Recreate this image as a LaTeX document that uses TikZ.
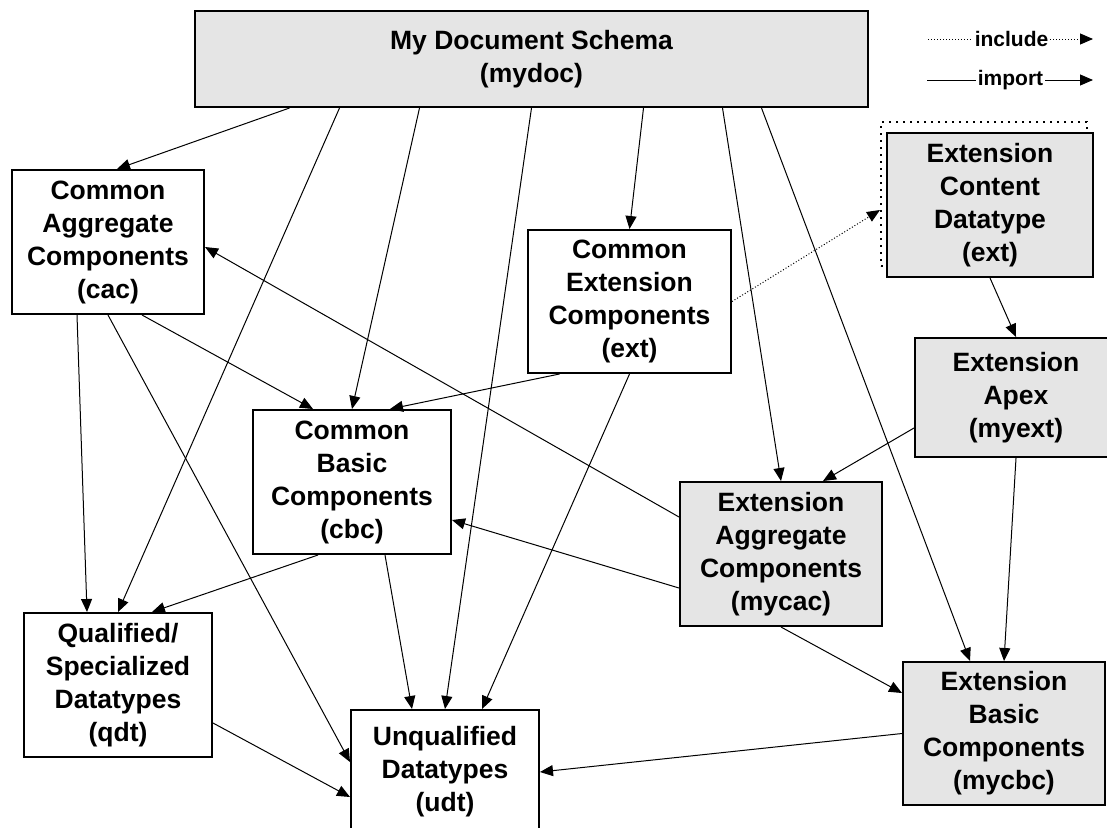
\documentclass[tikz,border=0pt]{standalone}
\usepackage{fontspec}
\setmainfont{Liberation Sans}
\usetikzlibrary{arrows.meta}
\begin{document}
\begin{tikzpicture}[x=1pt, y=-1pt,
  box/.style={draw, line width=2pt, fill=white, align=center, inner sep=0pt, font=\bfseries\fontsize{26.5}{33}\selectfont},
  extbox/.style={box, fill=gray!20},
  imp/.style={line width=1pt, -{Triangle[length=13pt, width=11pt]}},
  inc/.style={line width=1pt, dash pattern=on 1pt off 2pt, -{Triangle[length=13pt, width=11pt]}},
  lgd/.style={inner sep=2pt, font=\bfseries\fontsize{21}{24}\selectfont}]
\useasboundingbox (0,0) rectangle (1107,827);
\node[extbox, minimum width=673pt, minimum height=96pt] (mydoc) at (531.5,59) {My Document Schema\\(mydoc)};
\node[lgd] (inclbl) at (1011.5,39) {include};
\coordinate (incbeg) at (928,39);
\coordinate (incend) at (1093,39);
\draw[line width=1pt, dash pattern=on 1pt off 2pt] (incbeg) -- (inclbl);
\draw[inc] (inclbl) -- (incend);
\node[lgd] (implbl) at (1010.5,80) {import};
\coordinate (impbeg) at (927,80);
\coordinate (impend) at (1093,80);
\draw[line width=1pt] (impbeg) -- (implbl);
\draw[imp] (implbl) -- (impend);
\node[box, minimum width=192pt, minimum height=144pt] (cac) at (108,242) {Common\\Aggregate\\Components\\(cac)};
\node[box, minimum width=203pt, minimum height=143pt] (cec) at (629.5,301.5) {Common\\Extension\\Components\\(ext)};
\node[draw, line width=2pt, dash pattern=on 2pt off 5pt, minimum width=206pt, minimum height=144pt] (extinc) at (984,194) {};
\node[extbox, minimum width=206pt, minimum height=144pt] (ext) at (990,205) {Extension\\Content\\Datatype\\(ext)};
\node[extbox, minimum width=202pt, minimum height=119pt] (myext) at (1016,397.5) {Extension\\Apex\\(myext)};
\node[box, minimum width=198pt, minimum height=144pt] (cbc) at (352,482) {Common\\Basic\\Components\\(cbc)};
\node[extbox, minimum width=202pt, minimum height=144pt] (mycac) at (781,554) {Extension\\Aggregate\\Components\\(mycac)};
\node[box, minimum width=188pt, minimum height=144pt] (qdt) at (118,685) {Qualified/\\Specialized\\Datatypes\\(qdt)};
\node[box, minimum width=188pt, minimum height=124pt] (udt) at (445,772) {Unqualified\\Datatypes\\(udt)};
\node[extbox, minimum width=202pt, minimum height=143pt] (mycbc) at (1004,733.5) {Extension\\Basic\\Components\\(mycbc)};
\draw[imp] ([xshift=-242pt]mydoc.south) -- ([xshift=9pt]cac.north);
\draw[imp] ([xshift=-192pt]mydoc.south) -- (qdt.north);
\draw[imp] ([xshift=-112pt]mydoc.south) -- (cbc.north);
\draw[imp] (mydoc.south) -- (udt.north);
\draw[imp] ([xshift=112pt]mydoc.south) -- (cec.north);
\draw[imp] ([xshift=191pt]mydoc.south) -- (mycac.north);
\draw[imp] ([xshift=230pt]mydoc.south) -- ([xshift=-34pt]mycbc.north);
\draw[imp] ([xshift=-31pt]cac.south) -- ([xshift=-31pt]qdt.north);
\draw[imp] (cac.south) -- ([yshift=10pt]udt.west);
\draw[imp] ([xshift=34pt]cac.south) -- ([xshift=-39pt]cbc.north);
\draw[imp] ([xshift=-70pt]cec.south) -- ([xshift=38pt]cbc.north);
\draw[imp] (cec.south) -- ([xshift=37pt]udt.north);
\draw[inc] (cec.east) -- ([yshift=-16pt]extinc.west);
\draw[imp] (ext.south) -- (myext.north);
\draw[imp] ([yshift=-30.5pt]myext.west) -- ([xshift=42pt]mycac.north);
\draw[imp] (myext.south) -- (mycbc.north);
\draw[imp] ([yshift=37pt]mycac.west) -- ([yshift=-5pt]cac.east);
\draw[imp] ([yshift=-34pt]mycac.west) -- ([yshift=-38pt]cbc.east);
\draw[imp] (mycac.south) -- ([yshift=40.5pt]mycbc.west);
\draw[imp] (mycbc.west) -- (udt.east);
\draw[imp] ([xshift=-34pt]cbc.south) -- ([xshift=34pt]qdt.north);
\draw[imp] ([xshift=33pt]cbc.south) -- ([xshift=-33pt]udt.north);
\draw[imp] ([yshift=-38pt]qdt.east) -- ([yshift=-25pt]udt.west);
\end{tikzpicture}
\end{document}
